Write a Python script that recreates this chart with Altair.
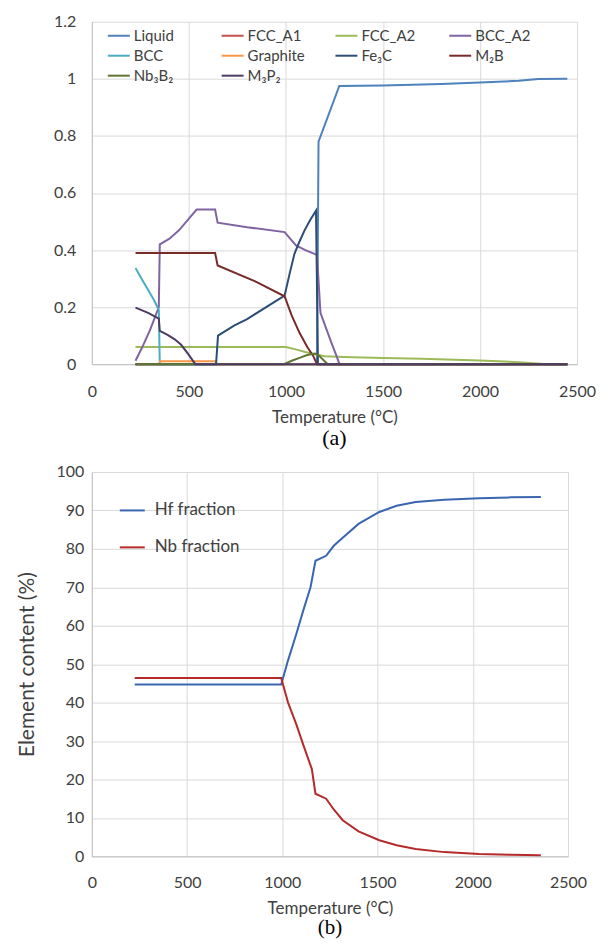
import altair as alt
import pandas as pd

# ---------------- Panel (a): phase fractions ----------------
series_a = ["Liquid", "FCC_A1", "FCC_A2", "BCC_A2", "BCC", "Graphite",
             "Fe₃C", "M₂B", "Nb₃B₂", "M₃P₂"]
colors_a = ["#4F81BD", "#C0504D", "#9BBB59", "#8064A2", "#4BACC6", "#F79646",
            "#2C4D75", "#772C2A", "#5F7530", "#4D3B62"]

liquid_t = [225, 1160, 1168, 1275, 1500, 1800, 2000, 2200, 2300, 2450]
liquid_v = [0, 0, 0.78, 0.975, 0.977, 0.982, 0.987, 0.993, 0.999, 1.0]

fcca1_t = [225, 2450]
fcca1_v = [0, 0]

fcca2_t = [225, 1000, 1050, 1100, 1150, 1200, 1300, 1500, 1700, 2000, 2200, 2350, 2450]
fcca2_v = [0.06, 0.06, 0.052, 0.043, 0.035, 0.028, 0.025, 0.022, 0.019, 0.013, 0.007, 0, 0]

bcca2_t = [225, 260, 300, 345, 350, 400, 450, 500, 540, 635, 648, 800, 993,
           1052, 1100, 1160, 1178, 1210, 1240, 1260, 1276, 2450]
bcca2_v = [0.012, 0.06, 0.12, 0.2, 0.42, 0.44, 0.47, 0.51, 0.542, 0.542, 0.496,
           0.48, 0.463, 0.416, 0.40, 0.383, 0.18, 0.12, 0.065, 0.03, 0, 0]

bcc_t = [225, 260, 290, 320, 345, 350, 2450]
bcc_v = [0.337, 0.295, 0.26, 0.225, 0.19, 0, 0]

graphite_t = [225, 348, 352, 638, 642, 2450]
graphite_v = [0, 0, 0.01, 0.01, 0, 0]

fe3c_t = [225, 640, 650, 735, 800, 993, 1020, 1044, 1070, 1096, 1125, 1155, 1165, 2450]
fe3c_v = [0, 0, 0.1, 0.136, 0.158, 0.24, 0.32, 0.387, 0.43, 0.469, 0.505, 0.538, 0, 0]

m2b_t = [225, 635, 648, 842, 993, 1030, 1070, 1110, 1140, 1160, 2450]
m2b_v = [0.39, 0.39, 0.346, 0.29, 0.238, 0.17, 0.11, 0.06, 0.03, 0, 0]

nb3b2_t = [225, 990, 1030, 1070, 1110, 1150, 1170, 1215, 2450]
nb3b2_v = [0, 0, 0.012, 0.022, 0.032, 0.037, 0.03, 0, 0]

m3p2_t = [225, 290, 345, 350, 390, 427, 460, 495, 533, 2450]
m3p2_v = [0.198, 0.18, 0.16, 0.117, 0.103, 0.087, 0.068, 0.037, 0, 0]

a_temps = [liquid_t, fcca1_t, fcca2_t, bcca2_t, bcc_t, graphite_t, fe3c_t, m2b_t, nb3b2_t, m3p2_t]
a_vals = [liquid_v, fcca1_v, fcca2_v, bcca2_v, bcc_v, graphite_v, fe3c_v, m2b_v, nb3b2_v, m3p2_v]

rows_a = []
for name, ts, vs in zip(series_a, a_temps, a_vals):
    for i, (t, v) in enumerate(zip(ts, vs)):
        rows_a.append({"series": name, "T": t, "v": v, "i": i})
df_a = pd.DataFrame(rows_a)

# ---------------- Panel (b): element content ----------------
series_b = ["Hf fraction", "Nb fraction"]
colors_b = ["#3A66B0", "#B52B2B"]

hf_t = [225, 994, 1030, 1073, 1110, 1148, 1174, 1230, 1270, 1317, 1400, 1509,
        1600, 1700, 1850, 2033, 2200, 2357]
hf_v = [44.7, 44.7, 51, 57.8, 64, 70, 76.9, 78.2, 80.8, 82.9, 86.5, 89.6,
        91.2, 92.2, 92.8, 93.2, 93.4, 93.5]

nb_t = [225, 994, 1030, 1073, 1110, 1155, 1174, 1230, 1270, 1317, 1400, 1509,
        1600, 1700, 1850, 2033, 2200, 2357]
nb_v = [46.4, 46.4, 40, 34.4, 29, 22.7, 16.3, 15.0, 12.2, 9.4, 6.5, 4.2,
        2.9, 1.9, 1.1, 0.6, 0.4, 0.3]

rows_b = []
for name, ts, vs in zip(series_b, [hf_t, nb_t], [hf_v, nb_v]):
    for i, (t, v) in enumerate(zip(ts, vs)):
        rows_b.append({"series": name, "T": t, "v": v, "i": i})
df_b = pd.DataFrame(rows_b)

x_ticks = [0, 500, 1000, 1500, 2000, 2500]
ya_ticks = [0, 0.2, 0.4, 0.6, 0.8, 1.0, 1.2]
yb_ticks = [0, 10, 20, 30, 40, 50, 60, 70, 80, 90, 100]

FONT = "Lato"
GRID = "#D9D9D9"
TXT = "#404040"


def x_axis(lp, tp):
    return alt.Axis(values=x_ticks, format="d", title="Temperature (°C)", grid=True,
                    gridColor=GRID, domainColor="#BFBFBF", ticks=False,
                    labelFlush=False,
                    labelFont=FONT, labelFontSize=16, labelColor=TXT,
                    labelPadding=lp, titleFont=FONT, titleFontSize=17,
                    titleFontWeight="normal", titleColor=TXT, titlePadding=tp)


chart_a = alt.Chart(df_a).mark_line(strokeWidth=2).encode(
    x=alt.X("T:Q", scale=alt.Scale(domain=[0, 2500], nice=False), axis=x_axis(19, 10)),
    y=alt.Y("v:Q", scale=alt.Scale(domain=[0, 1.2], nice=False),
            axis=alt.Axis(values=ya_ticks, title=None, format=".1~f", grid=True,
                          gridColor=GRID, domainColor="#BFBFBF", ticks=False,
                          labelFont=FONT, labelFontSize=16, labelColor=TXT,
                          labelPadding=16)),
    color=alt.Color("series:N",
                    scale=alt.Scale(domain=series_a, range=colors_a),
                    legend=alt.Legend(title=None, orient="none", legendX=15, legendY=2,
                                      columns=4, direction="horizontal",
                                      gridAlign="all", columnPadding=26,
                                      rowPadding=-4, symbolType="stroke",
                                      symbolSize=484, symbolStrokeWidth=2,
                                      labelOffset=3, labelFont=FONT, labelFontSize=15,
                                      labelColor=TXT)),
    order=alt.Order("i:Q"),
).properties(
    width=486, height=343,
    title=alt.TitleParams("(a)", orient="bottom", font="Liberation Serif",
                          fontSize=22, fontWeight="normal", color="black", offset=3)
)

chart_b = alt.Chart(df_b).mark_line(strokeWidth=2).encode(
    x=alt.X("T:Q", scale=alt.Scale(domain=[0, 2500], nice=False), axis=x_axis(18, 10)),
    y=alt.Y("v:Q", scale=alt.Scale(domain=[0, 100], nice=False),
            axis=alt.Axis(values=yb_ticks, title="Element  content (%)", grid=True,
                          gridColor=GRID, domainColor="#BFBFBF", ticks=False,
                          labelFont=FONT, labelFontSize=16, labelColor=TXT,
                          labelPadding=8, titleFont=FONT, titleFontSize=21,
                          titleFontWeight="normal", titleColor=TXT, titlePadding=19)),
    color=alt.Color("series:N",
                    scale=alt.Scale(domain=series_b, range=colors_b),
                    legend=alt.Legend(title=None, orient="none", legendX=27, legendY=25,
                                      symbolType="stroke", symbolSize=625,
                                      symbolStrokeWidth=2, rowPadding=15,
                                      labelOffset=9, labelFont=FONT, labelFontSize=17,
                                      labelColor=TXT)),
    order=alt.Order("i:Q"),
).properties(
    width=477, height=385,
    title=alt.TitleParams("(b)", orient="bottom", font="Liberation Serif",
                          fontSize=21, fontWeight="normal", color="black", offset=1)
)

chart = alt.vconcat(chart_a, chart_b, spacing=15).resolve_scale(
    x="independent", y="independent", color="independent"
).configure_view(stroke=None).properties(
    padding={"left": 8, "top": 5, "right": 0, "bottom": 0}
)

chart.save("out.html", embed_options={"renderer": "svg", "actions": False})
